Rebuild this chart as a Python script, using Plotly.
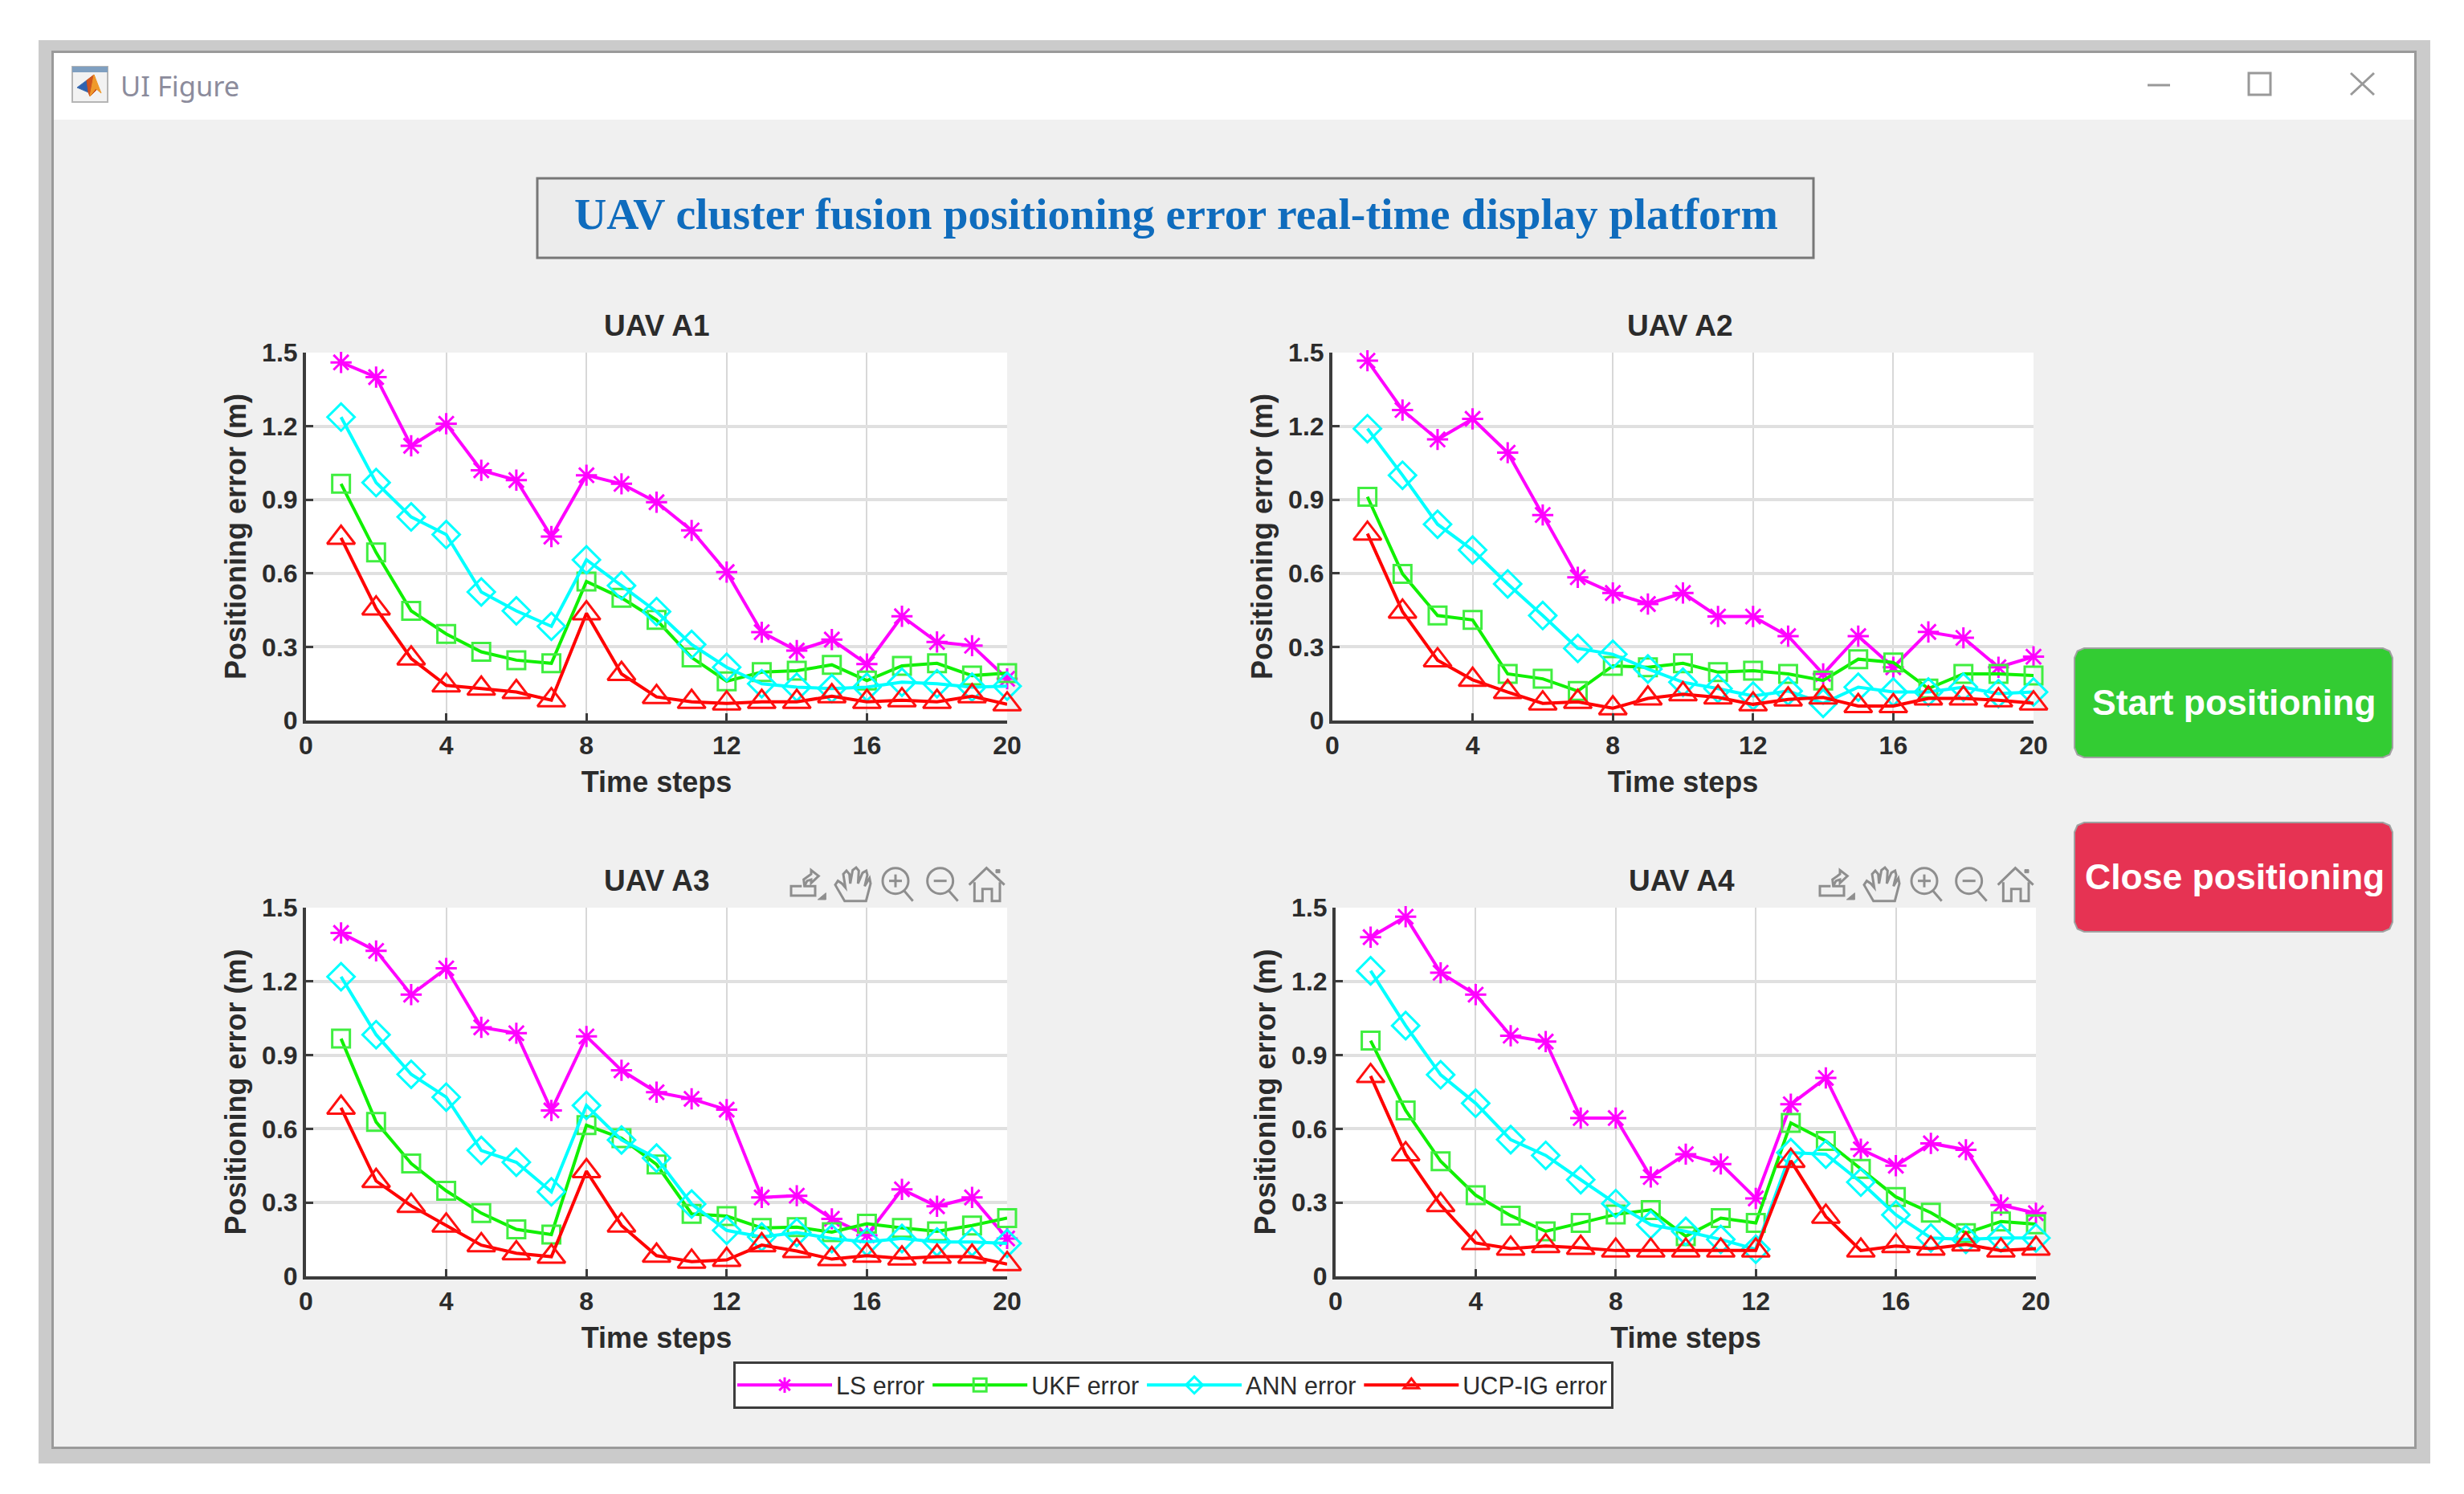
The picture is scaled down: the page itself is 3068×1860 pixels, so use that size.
import plotly.graph_objects as go

W, H = 3068, 1860

time_steps = list(range(1, 21))
x_ticks = [0, 4, 8, 12, 16, 20]
y_ticks = [0, 0.3, 0.6, 0.9, 1.2, 1.5]
y_tick_labels = ["0", "0.3", "0.6", "0.9", "1.2", "1.5"]
series_names = ["LS error", "UKF error", "ANN error", "UCP-IG error"]
panel_titles = ["UAV A1", "UAV A2", "UAV A3", "UAV A4"]

LS_A1 = [1.46, 1.40, 1.12, 1.21, 1.02, 0.98, 0.75, 1.00, 0.965, 0.89, 0.775, 0.605, 0.36, 0.285, 0.33, 0.23, 0.425, 0.32, 0.305, 0.17]
UKF_A1 = [0.965, 0.685, 0.447, 0.353, 0.28, 0.246, 0.233, 0.567, 0.50, 0.41, 0.257, 0.16, 0.197, 0.203, 0.227, 0.163, 0.223, 0.233, 0.183, 0.193]
ANN_A1 = [1.237, 0.97, 0.83, 0.758, 0.524, 0.447, 0.384, 0.655, 0.55, 0.444, 0.31, 0.217, 0.15, 0.136, 0.13, 0.136, 0.156, 0.15, 0.136, 0.14]
UCP_A1 = [0.745, 0.457, 0.253, 0.143, 0.13, 0.116, 0.083, 0.437, 0.19, 0.096, 0.076, 0.07, 0.076, 0.076, 0.099, 0.076, 0.083, 0.076, 0.099, 0.066]

LS_A2 = [1.467, 1.266, 1.146, 1.23, 1.092, 0.838, 0.584, 0.52, 0.475, 0.52, 0.424, 0.424, 0.344, 0.19, 0.344, 0.217, 0.361, 0.337, 0.217, 0.26]
UKF_A2 = [0.912, 0.598, 0.428, 0.41, 0.19, 0.17, 0.12, 0.223, 0.217, 0.233, 0.197, 0.203, 0.19, 0.163, 0.25, 0.237, 0.13, 0.19, 0.19, 0.183]
ANN_A2 = [1.19, 1.0, 0.80, 0.695, 0.557, 0.428, 0.294, 0.27, 0.21, 0.156, 0.13, 0.10, 0.12, 0.07, 0.136, 0.116, 0.116, 0.136, 0.11, 0.116]
UCP_A2 = [0.762, 0.444, 0.246, 0.166, 0.116, 0.07, 0.076, 0.05, 0.09, 0.107, 0.094, 0.066, 0.086, 0.094, 0.059, 0.059, 0.09, 0.09, 0.083, 0.07]

LS_A3 = [1.397, 1.324, 1.146, 1.253, 1.013, 0.989, 0.675, 0.976, 0.838, 0.749, 0.722, 0.678, 0.321, 0.328, 0.234, 0.167, 0.354, 0.285, 0.321, 0.154]
UKF_A3 = [0.967, 0.628, 0.459, 0.348, 0.257, 0.191, 0.17, 0.615, 0.562, 0.455, 0.254, 0.245, 0.197, 0.2, 0.18, 0.214, 0.197, 0.183, 0.207, 0.237]
ANN_A3 = [1.219, 0.983, 0.822, 0.729, 0.512, 0.464, 0.344, 0.695, 0.555, 0.481, 0.294, 0.187, 0.16, 0.178, 0.154, 0.14, 0.154, 0.14, 0.14, 0.134]
UCP_A3 = [0.686, 0.388, 0.287, 0.207, 0.127, 0.094, 0.08, 0.428, 0.207, 0.084, 0.06, 0.067, 0.127, 0.103, 0.07, 0.084, 0.073, 0.08, 0.08, 0.05]

LS_A4 = [1.38, 1.463, 1.235, 1.146, 0.979, 0.955, 0.644, 0.644, 0.404, 0.497, 0.457, 0.317, 0.70, 0.807, 0.517, 0.45, 0.541, 0.515, 0.29, 0.257]
UKF_A4 = [0.959, 0.675, 0.468, 0.33, 0.247, 0.183, 0.217, 0.252, 0.27, 0.163, 0.237, 0.217, 0.624, 0.551, 0.437, 0.323, 0.259, 0.176, 0.223, 0.212]
ANN_A4 = [1.243, 1.02, 0.82, 0.704, 0.556, 0.492, 0.393, 0.296, 0.21, 0.183, 0.15, 0.11, 0.503, 0.497, 0.383, 0.25, 0.156, 0.15, 0.156, 0.156]
UCP_A4 = [0.815, 0.497, 0.29, 0.136, 0.113, 0.123, 0.116, 0.105, 0.105, 0.105, 0.105, 0.105, 0.47, 0.243, 0.105, 0.123, 0.113, 0.13, 0.105, 0.113]

panels = [
    [LS_A1, UKF_A1, ANN_A1, UCP_A1],
    [LS_A2, UKF_A2, ANN_A2, UCP_A2],
    [LS_A3, UKF_A3, ANN_A3, UCP_A3],
    [LS_A4, UKF_A4, ANN_A4, UCP_A4],
]

colors = ["#ff00ff", "#10f000", "#00ffff", "#ff0000"]
marker_colors = ["#ff00ff", "#40ee40", "#00ffff", "#ff1010"]
symbols = ["asterisk-open", "square-open", "diamond-open", "triangle-up-open"]
sizes = [22, 22, 26, 30]

# pixel boxes: left, right, top, bottom
boxes = [(381, 1254, 439, 897), (1659, 2532, 439, 897), (381, 1254, 1130, 1589), (1663, 2535, 1130, 1589)]
title_pos = [(818, 405), (2092, 405), (818, 1096), (2094, 1096)]

SANS = "Liberation Sans"
TXT = "#2b2b2b"


def px(x):
    return x / W


def py(y):
    return 1 - y / H


def poly(points, close=False):
    s = "M" + " L".join(f"{px(a):.5f},{py(b):.5f}" for a, b in points)
    return s + (" Z" if close else "")


shapes, annotations = [], []


def rect(x0, y0, x1, y1, fill, line=None, lw=0):
    shapes.append(dict(type="rect", xref="paper", yref="paper", x0=px(x0), x1=px(x1), y0=py(y0), y1=py(y1),
                       fillcolor=fill, line=dict(color=line or fill, width=lw), layer="below"))


def line_path(points, color, lw=3, close=False, fill=None, layer="above"):
    shapes.append(dict(type="path", xref="paper", yref="paper", path=poly(points, close),
                       line=dict(color=color, width=lw), fillcolor=fill or "rgba(0,0,0,0)", layer=layer))


def round_rect(x0, y0, x1, y1, r, fill, border):
    k = 0.3 * r
    pts = [(x0 + r, y0), (x1 - r, y0), (x1 - k, y0 + k), (x1, y0 + r), (x1, y1 - r), (x1 - k, y1 - k), (x1 - r, y1),
           (x0 + r, y1), (x0 + k, y1 - k), (x0, y1 - r), (x0, y0 + r), (x0 + k, y0 + k)]
    line_path(pts, border, 2, True, fill, "below")


def text(x, y, s, size, color=TXT, family=SANS, weight="normal", xanchor="center"):
    annotations.append(dict(x=px(x), y=py(y), xref="paper", yref="paper", text=s, showarrow=False, xanchor=xanchor,
                            yanchor="middle", font=dict(family=family, size=size, color=color, weight=weight)))


# window chrome
rect(48, 50, 3026, 1822, "#cbcbcb")
rect(64, 63, 3009, 1804, "#9a9a9a")
rect(67, 66, 3006, 1801, "#f0f0f0")
rect(67, 66, 3006, 149, "#ffffff")
for l, r, t, b in boxes:
    rect(l, t, r, b, "#ffffff")

# window icon
rect(90, 83, 134, 127, "#f2f2f2", "#b5b5b5", 2)
rect(90, 83, 134, 90, "#7f9fc0")
line_path([(96, 109), (108, 100), (113, 108), (110, 115)], "#3f6fb0", 1, True, "#2f62b0")
line_path([(108, 100), (117, 93), (122, 110), (112, 120), (110, 115)], "#c8501e", 1, True, "#d0551f")
line_path([(117, 93), (126, 116), (119, 110), (112, 120)], "#ef9a2a", 1, True, "#ef9a2a")
text(148, 107, "UI Figure", 34.5, "#8c8c9c", "Noto Sans", xanchor="left")

# window buttons
line_path([(2674, 106), (2702, 106)], "#999999", 3)
line_path([(2800, 91), (2827, 91), (2827, 118), (2800, 118)], "#999999", 3, True)
line_path([(2927, 91), (2956, 118)], "#999999", 3)
line_path([(2956, 91), (2927, 118)], "#999999", 3)

# title box
rect(669, 222, 2258, 321, "#ececec", "#777777", 3)
text(1464, 266, "UAV cluster fusion positioning error real-time display platform", 55.7, "#0f6cbd", "Liberation Serif", "bold")

# buttons
round_rect(2583, 807, 2979, 943, 12, "#33cc33", "#a0a0a0")
round_rect(2583, 1024, 2979, 1160, 12, "#e63353", "#a0a0a0")
text(2782, 874, "Start positioning", 44.5, "#ffffff", SANS, "bold")
text(2782, 1091, "Close positioning", 44.5, "#ffffff", SANS, "bold")


def toolbar(dx, dy):
    icol = "#8e8e8e"

    def z(pts):
        return [(a / 3 + dx, b / 3 + dy) for a, b in pts]

    line_path(z([(115, 130), (75, 130), (75, 165), (165, 165), (165, 130), (125, 130), (122, 105), (150, 85), (150, 70), (178, 92), (150, 118), (150, 105), (135, 110), (125, 130)]), icol, 3)
    line_path(z([(205, 155), (205, 180), (175, 180)]), icol, 1, True, icol)
    line_path(z([(275, 185), (240, 125), (250, 110), (265, 120), (278, 135), (270, 85), (282, 72), (293, 85), (296, 120), (305, 70), (318, 60), (328, 72), (325, 120), (342, 80), (356, 72), (360, 88), (350, 130), (368, 100), (372, 120), (355, 185)]), icol, 3, True)
    for cx, hx0, hx1 in [(465, 498, 530), (632, 665, 698)]:
        shapes.append(dict(type="circle", xref="paper", yref="paper", x0=px(dx + (cx - 48) / 3), x1=px(dx + (cx + 48) / 3),
                           y0=py(dy + 62 / 3), y1=py(dy + 158 / 3), line=dict(color=icol, width=3)))
        line_path(z([(hx0, 148), (hx1, 185)]), icol, 3)
        line_path(z([(cx - 24, 110), (cx + 24, 110)]), icol, 3)
    line_path(z([(465, 86), (465, 134)]), icol, 3)
    line_path(z([(740, 125), (805, 62), (872, 125)]), icol, 3)
    line_path(z([(760, 115), (760, 185), (790, 185), (790, 140), (825, 140), (825, 185), (855, 185), (855, 115)]), icol, 3)
    line_path(z([(840, 68), (855, 68), (855, 80), (840, 80)]), icol, 1, True, icol)


toolbar(960, 1060)
toolbar(2241, 1060)

layout = dict(
    width=W, height=H, margin=dict(l=0, r=0, t=0, b=0), paper_bgcolor="#ffffff", plot_bgcolor="#ffffff",
    font=dict(family=SANS, size=31, color=TXT), autosize=False,
    legend=dict(orientation="h", x=px(913), y=py(1695), xanchor="left", yanchor="top", bgcolor="#ffffff",
                bordercolor="#3c3c3c", borderwidth=3, itemwidth=118, font=dict(family=SANS, size=30.5, color=TXT),
                itemclick=False, itemdoubleclick=False, tracegroupgap=0),
)

fig = go.Figure()
for i, (vals, box) in enumerate(zip(panels, boxes)):
    suffix = "" if i == 0 else str(i + 1)
    l, r, t, b = box
    axis_font = dict(family=SANS, size=32, color=TXT, weight="bold")
    layout["xaxis" + suffix] = dict(
        domain=[px(l), px(r)], range=[0, 20], anchor="y" + suffix, tickmode="array", tickvals=x_ticks,
        ticktext=[str(v) for v in x_ticks], ticks="inside", ticklen=9, tickwidth=3, tickcolor="#3c3c3c",
        showline=True, linecolor="#3c3c3c", linewidth=4, showgrid=True, gridcolor="#d8d8d8", gridwidth=2,
        zeroline=False, tickfont=axis_font, automargin=False,
        title=dict(text="Time steps", standoff=16, font=dict(family=SANS, size=36, color=TXT, weight="bold")),
    )
    layout["yaxis" + suffix] = dict(
        domain=[py(b), py(t)], range=[0, 1.5], anchor="x" + suffix, tickmode="array", tickvals=y_ticks,
        ticktext=y_tick_labels, ticks="inside", ticklen=9, tickwidth=3, tickcolor="#3c3c3c",
        showline=True, linecolor="#3c3c3c", linewidth=4, showgrid=True, gridcolor="#e0e0e0", gridwidth=4,
        zeroline=False, tickfont=axis_font, automargin=False,
        title=dict(text="Positioning error (m)", standoff=10, font=dict(family=SANS, size=36, color=TXT, weight="bold")),
    )
    text(title_pos[i][0], title_pos[i][1], panel_titles[i], 37, TXT, SANS, "bold")
    for j, y in enumerate(vals):
        fig.add_trace(go.Scatter(
            x=time_steps, y=y, name=series_names[j], mode="lines+markers", cliponaxis=False,
            xaxis="x" + suffix, yaxis="y" + suffix, showlegend=i == 0, legendgroup=series_names[j],
            line=dict(color=colors[j], width=4),
            marker=dict(symbol=symbols[j], size=sizes[j], color=marker_colors[j], line=dict(color=marker_colors[j], width=3)),
        ))

layout["shapes"] = shapes
layout["annotations"] = annotations
fig.update_layout(**layout)
fig.write_html("out.html", config=dict(displayModeBar=False),
               post_script="document.body.style.margin='0';document.documentElement.style.overflow='hidden';")
